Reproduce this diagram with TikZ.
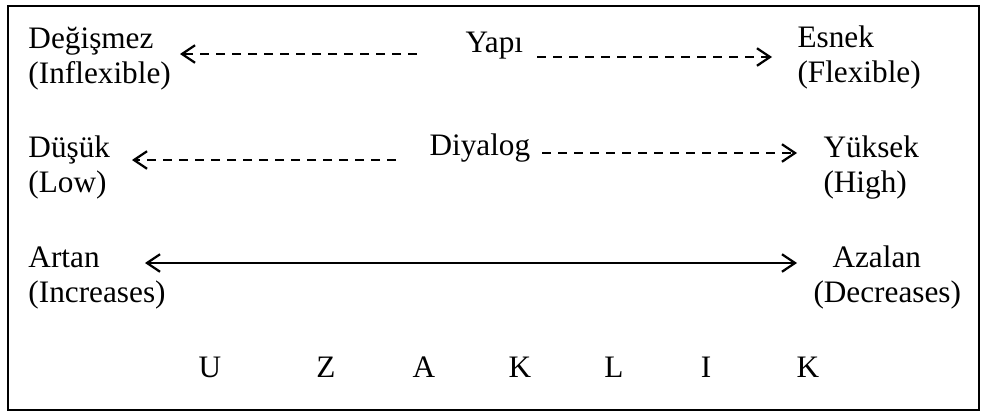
\documentclass[tikz,border=0pt]{standalone}
\usepackage{fontspec}
\setmainfont{Liberation Serif}
\usetikzlibrary{arrows.meta}

\begin{document}
\begin{tikzpicture}[x=0.4pt, y=-0.4pt,
    lbl/.style={anchor=base west, inner sep=0pt, align=left, font=\fontsize{12.5}{14}\selectfont},
    letter/.style={anchor=base, inner sep=0pt, font=\fontsize{12.5}{14}\selectfont},
    barb/.tip={Straight Barb[length=5.2pt, width=7pt, line width=0.9pt]},
    dasharrow/.style={-barb, line width=0.9pt, dash pattern=on 3.6pt off 2.8pt},
    bothway/.style={barb-barb, line width=0.8pt}]
    \useasboundingbox (0,0) rectangle (986,414);
    \draw[line width=0.6pt] (8,6) rectangle (979,410);

    % row 1 (base = last line)
    \node[lbl] (degismez) at (28,83) {Değişmez\\(Inflexible)};
    \node[lbl] (yapi) at (465,52) {Yapı};
    \node[lbl] (esnek) at (797,82) {Esnek\\(Flexible)};
    \coordinate (yapiL) at (417,54);
    \coordinate (yapiR) at (537,57);
    \coordinate (degismezR) at (180,54);
    \coordinate (esnekL) at (772,57);
    \draw[dasharrow] (yapiL) -- (degismezR);
    \draw[dasharrow] (yapiR) -- (esnekL);

    % row 2
    \node[lbl] (dusuk) at (28,192) {Düşük\\(Low)};
    \node[lbl] (diyalog) at (429,155) {Diyalog};
    \node[lbl] (yuksek) at (823,192) {Yüksek\\(High)};
    \coordinate (diyalogL) at (396,160);
    \coordinate (diyalogR) at (542,153);
    \coordinate (dusukR) at (132,160);
    \coordinate (yuksekL) at (797,153);
    \draw[dasharrow] (diyalogL) -- (dusukR);
    \draw[dasharrow] (diyalogR) -- (yuksekL);

    % row 3
    \node[lbl] (artan) at (28,302) {Artan\\(Increases)};
    \node[lbl] (azalan) at (813,302) {\hspace*{7.6pt}Azalan\\(Decreases)};
    \coordinate (artanR) at (145,263);
    \coordinate (azalanL) at (797,263);
    \draw[bothway] (artanR) -- (azalanL);

    % uzaklik
    \foreach \ch/\px [count=\i] in {U/210, Z/326, A/424, K/520, L/614, I/706, K/808}
        \node[letter] (u\i) at (\px,377) {\ch};
\end{tikzpicture}
\end{document}
